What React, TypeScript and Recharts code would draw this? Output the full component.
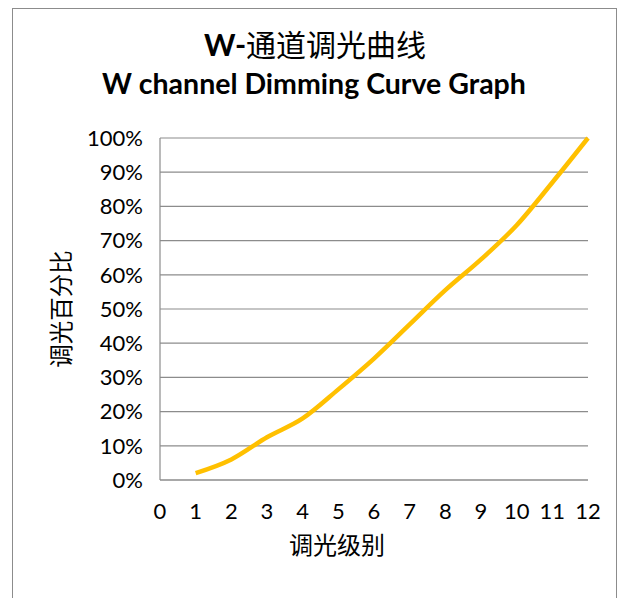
import { LineChart, Line, XAxis, YAxis, CartesianGrid, Label } from "recharts";

// Dimming level -> output percentage
const levels = [1, 2, 3, 4, 5, 6, 7, 8, 9, 10, 11, 12];
const percents = [2, 6, 12.5, 18, 26.5, 35.5, 45.5, 55.5, 64.5, 74.5, 87, 100];
const xTicks = [0, 1, 2, 3, 4, 5, 6, 7, 8, 9, 10, 11, 12];
const yTicks = [0, 10, 20, 30, 40, 50, 60, 70, 80, 90, 100];

const data = levels.map((level, i) => ({ level, pct: percents[i] }));

const LINE_COLOR = "#FFC000";
const GRID_COLOR = "#8c8c8c";
const LATIN = "Lato, 'Noto Sans CJK SC', sans-serif";
const CJK = "'Noto Sans CJK SC', sans-serif";

export default function App() {
  return (
    <div style={{ position: "absolute", left: 0, top: 0, width: 622, height: 598, background: "#fff", overflow: "hidden" }}>
      <div
        style={{
          position: "absolute",
          left: 12,
          top: 8,
          width: 603,
          height: 620,
          border: "1px solid #8c8c8c",
        }}
      />
      <div
        style={{
          position: "absolute",
          left: 0,
          width: 630,
          top: 24,
          textAlign: "center",
          fontFamily: CJK,
          fontSize: 30,
          lineHeight: "38px",
          color: "#000",
        }}
      >
        <span style={{ fontFamily: LATIN, fontWeight: 700 }}>W-</span>通道调光曲线
      </div>
      <div
        style={{
          position: "absolute",
          left: 0,
          width: 628,
          top: 65,
          textAlign: "center",
          fontFamily: LATIN,
          fontWeight: 700,
          fontSize: 28.5,
          lineHeight: "36px",
          color: "#000",
        }}
      >
        W channel Dimming Curve Graph
      </div>
      <div style={{ position: "absolute", left: 0, top: 0 }}>
        <LineChart
          width={622}
          height={598}
          data={data}
          margin={{ top: 138, right: 34, bottom: 88, left: 80 }}
        >
          <CartesianGrid vertical={false} stroke={GRID_COLOR} strokeWidth={1.2} />
          <XAxis
            type="number"
            dataKey="level"
            domain={[0, 12]}
            ticks={xTicks}
            interval={0}
            height={30}
            tickLine={false}
            tickSize={0}
            tickMargin={23}
            axisLine={{ stroke: GRID_COLOR, strokeWidth: 1.2 }}
            tick={{ fill: "#000", fontSize: 22, fontFamily: LATIN }}
          >
            <Label
              value="调光级别"
              position="insideBottom"
              offset={-44}
              dx={-37}
              style={{ fill: "#000", fontSize: 24, fontFamily: CJK }}
            />
          </XAxis>
          <YAxis
            type="number"
            domain={[0, 100]}
            ticks={yTicks}
            interval={0}
            width={80}
            tickLine={false}
            tickSize={0}
            tickMargin={17}
            tickFormatter={(v) => `${v}%`}
            axisLine={{ stroke: GRID_COLOR, strokeWidth: 1.2 }}
            tick={{ fill: "#000", fontSize: 22, fontFamily: LATIN }}
          >
            <Label
              value="调光百分比"
              angle={-90}
              position="insideLeft"
              offset={-18}
              style={{ fill: "#000", fontSize: 23.5, fontFamily: CJK, textAnchor: "middle" }}
            />
          </YAxis>
          <Line
            type="monotone"
            dataKey="pct"
            stroke={LINE_COLOR}
            strokeWidth={4.5}
            dot={false}
            isAnimationActive={false}
          />
        </LineChart>
      </div>
    </div>
  );
}
